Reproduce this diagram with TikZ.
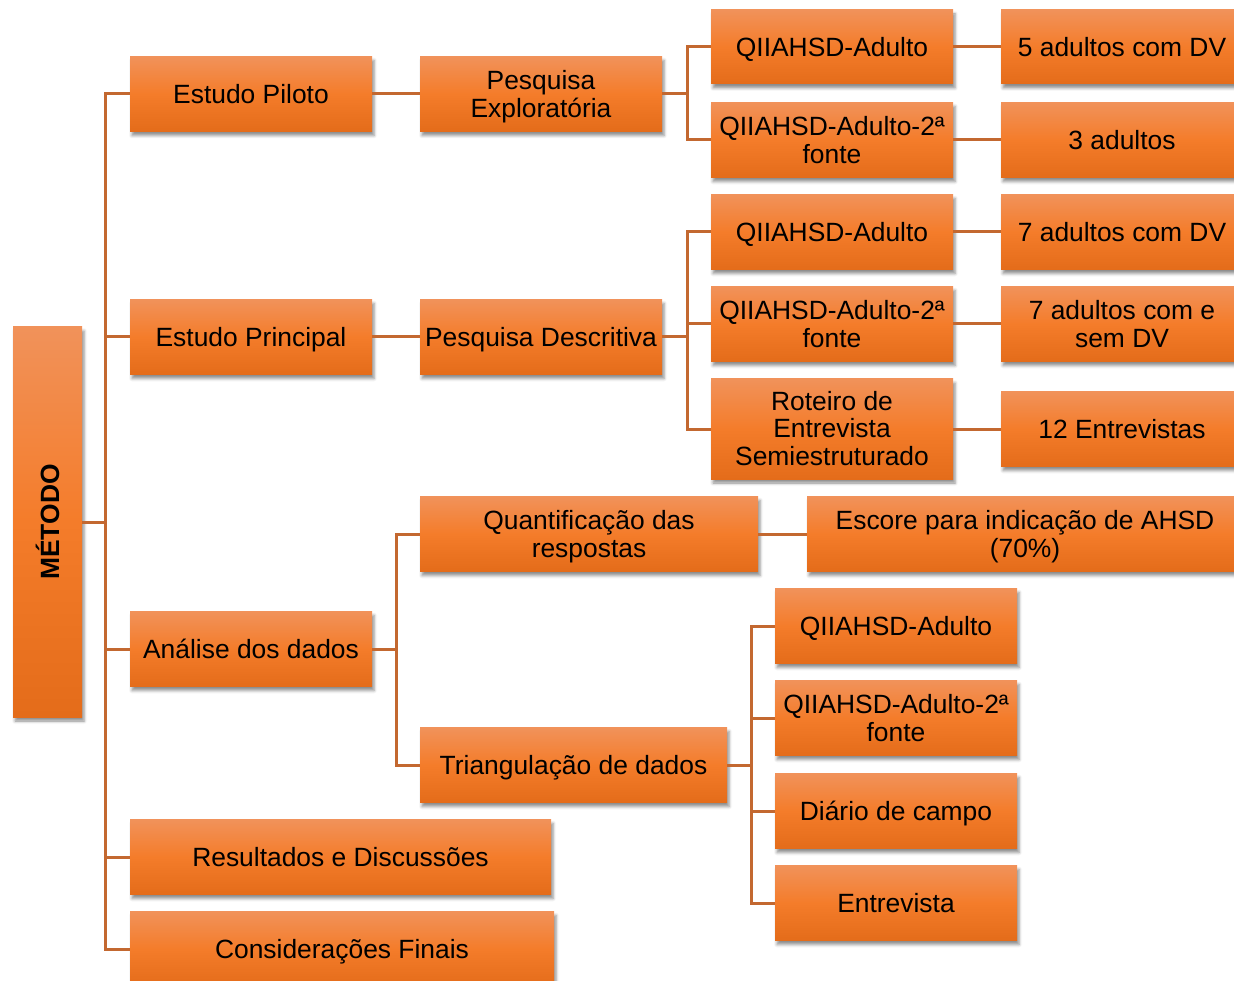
\documentclass[tikz,border=0pt]{standalone}
\usepackage{fontspec}
\setmainfont{Liberation Sans}
\usetikzlibrary{shadows.blur}
\definecolor{otop}{RGB}{241,146,90}
\definecolor{omid}{RGB}{244,124,42}
\definecolor{obot}{RGB}{228,108,26}
\definecolor{lnc}{RGB}{195,104,48}
\newcommand\bxt[2][-4pt]{\raisebox{#1}[\height][\depth]{\begin{tabular}{@{}c@{}}#2\end{tabular}}}
\begin{document}
\begin{tikzpicture}[x=1pt,y=-1pt,
  box/.style={rectangle, top color=otop, bottom color=obot, middle color=omid,
    inner sep=0pt, font=\fontsize{26.4}{27.5}\selectfont,
    blur shadow={shadow xshift=2pt, shadow yshift=-4pt, shadow blur radius=3pt, shadow opacity=45},
    minimum width=242pt, minimum height=75pt},
  conn/.style={draw=lnc, line width=3pt}]
\useasboundingbox (0,0) rectangle (1234,981);
% nodes
\node[box, minimum width=69pt, minimum height=390pt] (metodo) at (47.5,522) {\rotatebox{90}{\bfseries MÉTODO}\hspace{8pt}};
\node[box] (piloto) at (251,94) {\bxt{Estudo Piloto}};
\node[box] (principal) at (251,337) {\bxt{Estudo Principal}};
\node[box] (analise) at (251,649) {\bxt{Análise dos dados}};
\node[box, minimum width=421pt] (result) at (340.5,857) {\bxt{Resultados e Discussões}};
\node[box, minimum width=424pt] (consid) at (342,949) {\bxt{Considerações Finais}};
\node[box] (explor) at (541,94) {\bxt{Pesquisa\\Exploratória}};
\node[box] (descr) at (541,337) {\bxt{Pesquisa Descritiva}};
\node[box, minimum height=74pt] (q1) at (832,47) {\bxt{QIIAHSD-Adulto}};
\node[box] (q1b) at (832,140) {\bxt{QIIAHSD-Adulto-2ª\\fonte}};
\node[box, minimum height=74pt] (n5) at (1122,47) {\bxt{5 adultos com DV}};
\node[box] (n3) at (1122,140) {\bxt{3 adultos}};
\node[box] (q2) at (832,232) {\bxt{QIIAHSD-Adulto}};
\node[box] (q2b) at (832,324) {\bxt{QIIAHSD-Adulto-2ª\\fonte}};
\node[box, minimum height=100pt] (rot) at (832,429) {\bxt[-3pt]{Roteiro de\\Entrevista\\Semiestruturado}};
\node[box] (n7a) at (1122,232) {\bxt{7 adultos com DV}};
\node[box] (n7b) at (1122,324) {\bxt{7 adultos com e\\sem DV}};
\node[box] (n12) at (1122,429) {\bxt{12 Entrevistas}};
\node[box, minimum width=338pt] (quant) at (589,534) {\bxt{Quantificação das\\respostas}};
\node[box, minimum width=436pt] (escore) at (1025,534) {\bxt{Escore para indicação de AHSD\\(70\%)}};
\node[box, minimum width=307pt] (triang) at (573.5,765) {\bxt{Triangulação de dados}};
\node[box] (q3) at (896,626) {\bxt{QIIAHSD-Adulto}};
\node[box] (q3b) at (896,718) {\bxt{QIIAHSD-Adulto-2ª\\fonte}};
\node[box] (diario) at (896,811) {\bxt{Diário de campo}};
\node[box] (entr) at (896,903) {\bxt{Entrevista}};
% connectors
\foreach \c in {piloto,principal,analise,result,consid}
  \draw[conn] (metodo.east) -- ++(23,0) |- (\c.west);
\draw[conn] (piloto) -- (explor);
\draw[conn] (principal) -- (descr);
\foreach \c in {q1,q1b}
  \draw[conn] (explor.east) -- ++(25,0) |- (\c.west);
\foreach \c in {q2,q2b,rot}
  \draw[conn] (descr.east) -- ++(25,0) |- (\c.west);
\draw[conn] (q1) -- (n5);
\draw[conn] (q1b) -- (n3);
\draw[conn] (q2) -- (n7a);
\draw[conn] (q2b) -- (n7b);
\draw[conn] (rot) -- (n12);
\foreach \c in {quant,triang}
  \draw[conn] (analise.east) -- ++(24,0) |- (\c.west);
\draw[conn] (quant) -- (escore);
\foreach \c in {q3,q3b,diario,entr}
  \draw[conn] (triang.east) -- ++(24,0) |- (\c.west);
\end{tikzpicture}
\end{document}
